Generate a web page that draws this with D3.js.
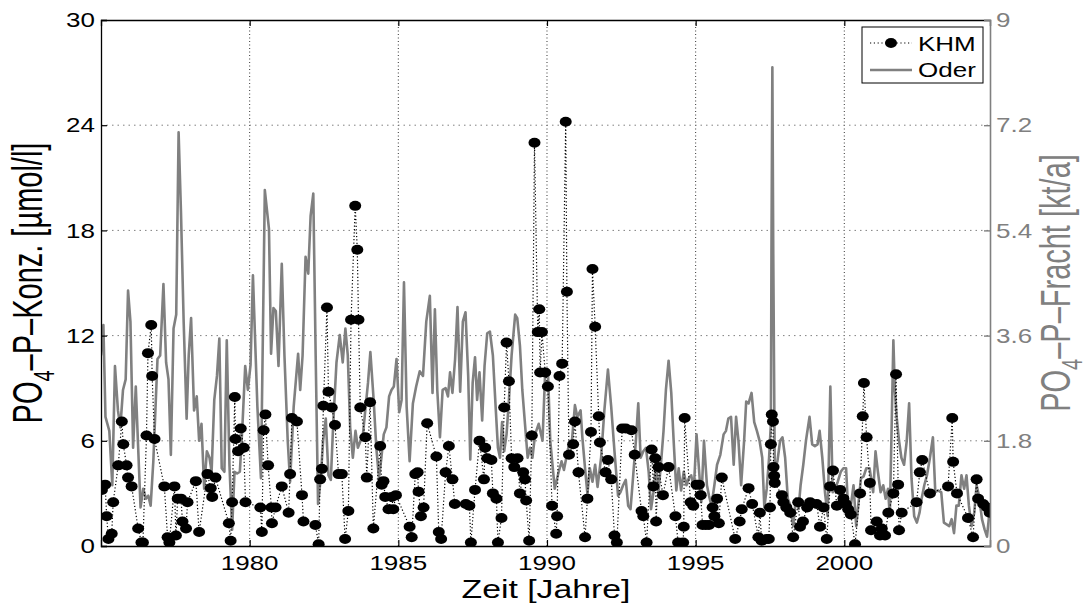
<!DOCTYPE html>
<html>
<head>
<meta charset="utf-8">
<script src="https://cdn.jsdelivr.net/npm/d3@7"></script>
<style>
  body { margin: 0; background: #fff; }
  svg { display: block; font-family: "Liberation Sans", Arial, Helvetica, sans-serif; }
</style>
</head>
<body>
<svg id="chart" width="1088" height="604"></svg>
<script>
// KHM concentration [µmol/l] : [year, value]
var khmSamples = [
  [1975.03,3.2],[1975.14,3.5],[1975.19,1.7],[1975.25,0.4],[1975.36,0.7],[1975.41,2.5],[1975.58,4.6],[1975.70,7.1],
  [1975.75,5.8],[1975.86,4.6],[1975.91,3.9],[1976.03,3.4],[1976.25,1.0],[1976.36,0.2],[1976.41,0.2],[1976.53,6.3],
  [1976.58,11.0],[1976.69,12.6],[1976.72,9.7],[1976.80,6.1],[1977.13,3.4],[1977.24,0.5],[1977.30,0.2],[1977.47,3.4],
  [1977.52,0.6],[1977.58,2.7],[1977.69,2.7],[1977.74,1.4],[1977.86,1.0],[1977.91,2.5],[1978.19,3.7],[1978.30,0.8],
  [1978.58,4.1],[1978.69,3.3],[1978.74,2.8],[1978.85,3.9],[1979.30,1.3],[1979.36,0.3],[1979.41,2.5],[1979.50,8.5],
  [1979.52,6.1],[1979.61,5.4],[1979.70,6.7],[1979.80,5.6],[1979.86,2.5],[1980.36,2.2],[1980.41,0.8],[1980.47,6.6],
  [1980.53,7.5],[1980.62,4.6],[1980.73,2.2],[1980.75,1.3],[1980.87,2.2],[1981.08,3.4],[1981.31,1.9],[1981.36,4.1],
  [1981.42,7.3],[1981.59,7.1],[1981.76,2.9],[1981.81,1.4],[1982.21,1.2],[1982.32,0.1],[1982.37,3.8],[1982.43,4.4],
  [1982.48,8.0],[1982.60,13.6],[1982.65,8.8],[1982.76,7.9],[1982.87,6.9],[1982.99,4.1],[1983.10,4.1],[1983.21,0.4],
  [1983.32,2.0],[1983.41,12.9],[1983.55,19.4],[1983.62,16.9],[1983.66,12.9],[1983.72,7.9],[1983.89,6.2],[1983.94,3.9],
  [1984.05,8.2],[1984.16,1.0],[1984.39,5.7],[1984.44,3.5],[1984.50,3.7],[1984.56,2.8],[1984.67,2.1],[1984.78,2.8],
  [1984.83,2.1],[1984.92,2.9],
  [1985.38,1.1],[1985.45,0.5],[1985.57,4.1],[1985.65,4.2],[1985.68,3.1],[1985.76,1.7],[1985.85,2.2],[1985.97,7.0],
  [1986.28,5.1],[1986.36,0.8],[1986.44,0.4],[1986.59,4.2],[1986.70,5.7],[1986.82,3.8],[1986.90,2.4],[1987.27,2.4],
  [1987.39,2.3],[1987.44,0.2],[1987.58,3.2],[1987.73,6.0],[1987.88,3.8],[1987.92,5.6],[1987.99,5.0],[1988.13,4.9],
  [1988.18,3.0],[1988.30,2.7],[1988.35,0.2],[1988.47,1.6],[1988.56,7.9],[1988.64,11.6],[1988.72,9.4],[1988.81,5.0],
  [1988.90,4.5],[1989.01,5.0],[1989.09,3.0],[1989.20,4.2],[1989.26,3.8],[1989.30,2.6],[1989.40,0.3],[1989.49,6.3],
  [1989.58,23.0],[1989.69,12.2],[1989.74,13.5],[1989.77,9.9],[1989.83,12.2],[1989.94,9.9],[1990.03,9.1],
  [1990.17,2.3],[1990.31,0.7],[1990.34,1.7],[1990.42,9.7],[1990.51,10.4],[1990.63,24.2],[1990.67,14.5],[1990.74,5.2],
  [1990.88,5.8],[1990.94,7.1],[1991.06,4.2],[1991.28,0.5],[1991.36,2.7],[1991.48,6.5],[1991.53,15.8],[1991.62,12.5],
  [1991.74,7.4],[1991.78,5.9],[1991.97,4.2],[1992.05,4.9],[1992.16,3.8],[1992.27,0.6],[1992.35,0.2],[1992.53,6.7],
  [1992.65,6.7],[1992.84,6.6],[1992.95,5.2],[1993.18,2.0],[1993.24,1.7],[1993.35,0.2],[1993.52,5.5],[1993.58,3.4],
  [1993.64,5.0],[1993.67,1.4],[1993.75,4.5],[1993.90,2.9],[1994.09,4.5],[1994.32,1.7],[1994.41,0.2],[1994.58,0.2],
  [1994.60,1.1],[1994.63,7.3],[1994.83,2.5],[1994.92,2.3],[1995.03,3.5],
  [1995.11,3.5],[1995.17,2.9],[1995.23,1.2],[1995.34,1.2],[1995.45,1.2],[1995.57,2.2],[1995.63,1.7],[1995.72,2.7],
  [1995.78,1.3],[1995.88,3.9],[1996.33,0.4],[1996.48,1.4],[1996.55,2.1],[1996.78,3.3],[1996.90,2.4],[1997.11,0.5],
  [1997.16,1.9],[1997.22,0.3],[1997.39,0.4],[1997.46,0.4],[1997.50,2.2],[1997.53,5.8],[1997.56,7.5],[1997.60,7.1],
  [1997.62,4.5],[1997.64,4.0],[1997.66,3.6],[1997.90,2.9],[1997.95,2.5],[1998.05,2.2],[1998.18,1.9],[1998.28,0.5],
  [1998.45,2.5],[1998.51,1.1],[1998.61,1.4],[1998.75,2.2],[1998.85,2.5],[1999.07,2.4],[1999.18,1.1],[1999.30,2.2],
  [1999.41,0.4],[1999.52,3.4],[1999.62,4.3],[1999.75,2.3],[1999.86,3.2],[1999.97,2.7],[2000.05,2.4],[2000.13,2.1],
  [2000.22,1.8],[2000.36,0.1],[2000.53,3.0],[2000.62,7.4],[2000.66,9.3],[2000.75,6.2],[2000.86,3.6],[2000.90,0.9],
  [2001.09,1.4],[2001.20,0.6],[2001.26,1.0],[2001.37,0.6],[2001.48,1.9],[2001.65,3.0],[2001.74,9.8],[2001.81,3.5],
  [2001.84,0.9],[2001.93,1.9],[2002.43,2.5],[2002.54,4.2],[2002.62,4.9],[2002.88,3.0],[2003.49,3.4],[2003.63,7.3],
  [2003.66,4.8],[2003.79,3.0],[2004.16,1.6],[2004.33,0.5],[2004.45,3.8],[2004.50,2.7],[2004.67,2.4],[2004.80,2.2],
  [2004.89,1.9]
];

// Oder load [kt/a] : [year, value]
var oderSamples = [
  [1975.00,3.26],[1975.08,3.78],[1975.15,2.21],[1975.28,1.97],[1975.38,1.04],[1975.47,3.08],[1975.57,2.32],[1975.65,2.03],
  [1975.74,2.67],[1975.83,2.85],[1975.91,4.37],[1975.99,3.84],[1976.08,1.68],[1976.17,2.73],[1976.25,1.68],[1976.33,0.66],
  [1976.42,0.98],[1976.51,0.81],[1976.59,0.86],[1976.67,0.69],[1976.76,1.45],[1976.90,3.20],[1976.99,3.26],[1977.10,4.48],
  [1977.19,3.14],[1977.27,2.85],[1977.35,1.56],[1977.44,3.72],[1977.53,3.96],[1977.61,7.08],[1977.69,5.71],[1977.78,3.84],
  [1977.88,2.18],[1977.95,3.26],[1978.03,3.90],[1978.13,2.32],[1978.22,2.56],[1978.30,1.80],[1978.38,2.09],[1978.47,0.98],
  [1978.56,1.62],[1978.65,1.51],[1978.72,1.27],[1978.81,2.50],[1978.90,2.91],[1978.98,3.55],[1979.06,1.33],[1979.15,1.27],
  [1979.23,3.52],[1979.32,1.39],[1979.41,0.28],[1979.49,1.27],[1979.58,1.24],[1979.67,1.27],[1979.76,2.09],[1979.85,3.08],
  [1979.94,2.67],[1980.03,3.10],[1980.11,4.63],[1980.26,2.38],[1980.38,1.16],[1980.51,6.09],[1980.65,5.42],[1980.72,3.29],
  [1980.80,4.07],[1980.88,4.02],[1980.97,3.08],[1981.08,4.83],[1981.17,3.26],[1981.28,1.80],[1981.36,1.10],[1981.48,2.38],
  [1981.63,3.29],[1981.70,2.67],[1981.78,3.26],[1981.88,4.95],[1981.97,4.66],[1982.05,5.65],[1982.14,6.03],[1982.22,3.26],
  [1982.30,0.72],[1982.39,1.16],[1982.47,1.80],[1982.56,2.18],[1982.65,1.21],[1982.73,1.13],[1982.81,2.09],[1982.92,3.14],
  [1983.03,3.61],[1983.13,3.14],[1983.22,3.72],[1983.30,3.26],[1983.38,2.03],[1983.47,1.51],[1983.56,1.97],[1983.64,1.68],
  [1983.73,1.80],[1983.81,1.91],[1983.90,2.38],[1983.98,2.79],[1984.06,3.32],[1984.17,2.50],[1984.26,1.68],[1984.35,1.16],
  [1984.43,1.51],[1984.51,1.91],[1984.60,2.03],[1984.69,2.56],[1984.77,2.67],[1984.85,2.73],[1984.94,3.20],[1985.03,2.29],
  [1985.11,2.50],[1985.19,4.51],[1985.28,2.38],[1985.38,1.45],[1985.49,2.44],[1985.60,2.73],[1985.72,2.99],[1985.83,2.91],
  [1985.94,3.84],[1986.06,4.28],[1986.15,2.62],[1986.23,4.05],[1986.31,2.67],[1986.40,1.86],[1986.49,2.67],[1986.59,2.70],
  [1986.67,2.56],[1986.74,2.97],[1986.82,2.62],[1986.91,3.20],[1986.99,4.09],[1987.08,2.64],[1987.17,3.84],[1987.26,4.00],
  [1987.35,2.91],[1987.42,1.48],[1987.50,2.79],[1987.58,3.23],[1987.65,2.50],[1987.73,2.97],[1987.82,2.15],[1987.90,3.08],
  [1987.99,3.64],[1988.08,3.67],[1988.18,3.26],[1988.26,2.50],[1988.35,1.68],[1988.42,1.51],[1988.49,2.12],[1988.56,1.62],
  [1988.64,1.91],[1988.72,2.50],[1988.81,3.26],[1988.93,3.96],[1989.00,3.90],[1989.09,3.43],[1989.17,2.67],[1989.26,2.09],
  [1989.35,1.51],[1989.43,1.68],[1989.51,1.51],[1989.60,1.91],[1989.72,2.09],[1989.85,1.80],[1989.94,2.99],[1990.03,3.02],
  [1990.11,1.80],[1990.26,0.98],[1990.38,1.24],[1990.49,1.45],[1990.57,1.30],[1990.65,1.51],[1990.74,1.74],[1990.83,1.74],
  [1990.94,2.41],[1991.02,2.21],[1991.13,2.32],[1991.19,1.86],[1991.28,1.33],[1991.36,0.89],[1991.44,1.33],[1991.53,1.10],
  [1991.62,1.39],[1991.70,1.01],[1991.82,1.51],[1991.93,2.32],[1992.05,3.02],[1992.16,2.38],[1992.27,1.62],[1992.39,0.86],
  [1992.47,0.92],[1992.56,1.04],[1992.65,1.13],[1992.73,0.69],[1992.81,0.63],[1992.90,1.21],[1992.99,1.80],[1993.07,2.44],
  [1993.15,1.51],[1993.24,1.62],[1993.33,1.68],[1993.42,1.27],[1993.50,0.63],[1993.58,0.92],[1993.67,1.36],[1993.75,0.92],
  [1993.84,1.45],[1993.92,1.97],[1994.00,2.67],[1994.09,3.17],[1994.18,2.62],[1994.26,1.80],[1994.35,0.95],[1994.43,1.33],
  [1994.51,0.95],[1994.60,1.27],[1994.69,1.04],[1994.77,1.16],[1994.85,1.21],[1994.94,0.98],[1995.03,1.91],[1995.11,1.33],
  [1995.19,0.75],[1995.28,1.80],[1995.38,1.04],[1995.45,0.86],[1995.53,0.69],[1995.63,1.04],[1995.72,1.39],[1995.83,1.56],
  [1995.94,1.91],[1996.02,1.97],[1996.10,2.18],[1996.19,2.21],[1996.28,1.39],[1996.36,2.21],[1996.44,1.80],[1996.53,1.04],
  [1996.63,1.80],[1996.70,2.47],[1996.78,2.44],[1996.88,2.62],[1996.97,2.12],[1997.06,1.97],[1997.15,1.80],[1997.24,1.51],
  [1997.31,0.66],[1997.39,0.98],[1997.47,1.51],[1997.53,2.09],[1997.55,5.01],[1997.58,8.19],[1997.61,5.01],[1997.66,1.33],
  [1997.75,1.45],[1997.84,1.80],[1997.92,1.86],[1998.01,1.51],[1998.10,0.81],[1998.19,0.69],[1998.28,0.34],[1998.37,0.81],
  [1998.46,0.63],[1998.53,1.04],[1998.62,1.39],[1998.71,1.80],[1998.83,2.21],[1998.92,1.74],[1999.01,1.71],[1999.10,1.74],
  [1999.17,1.97],[1999.26,1.51],[1999.35,0.92],[1999.44,0.51],[1999.53,2.73],[1999.61,0.92],[1999.69,0.98],[1999.78,1.10],
  [1999.88,1.27],[1999.97,1.33],[2000.06,1.33],[2000.14,0.51],[2000.22,0.69],[2000.31,1.04],[2000.40,0.34],[2000.48,0.75],
  [2000.56,1.16],[2000.65,1.19],[2000.74,1.33],[2000.85,1.33],[2000.97,0.92],[2001.05,1.62],[2001.13,1.27],[2001.22,0.92],
  [2001.31,1.04],[2001.39,0.81],[2001.47,0.98],[2001.53,0.51],[2001.58,1.74],[2001.65,3.52],[2001.70,2.67],[2001.76,2.21],
  [2001.84,1.80],[2001.92,1.51],[2002.01,1.39],[2002.10,1.80],[2002.18,2.44],[2002.26,1.16],[2002.35,0.51],[2002.44,0.40],
  [2002.53,0.57],[2002.60,0.81],[2002.69,1.04],[2002.78,1.21],[2002.88,1.51],[2002.98,1.86],[2003.06,0.92],[2003.15,0.95],
  [2003.26,0.92],[2003.35,0.40],[2003.44,0.37],[2003.53,0.34],[2003.61,0.46],[2003.69,0.22],[2003.77,0.69],[2003.85,0.69],
  [2003.94,1.21],[2004.03,0.98],[2004.11,1.21],[2004.19,0.69],[2004.28,0.34],[2004.37,0.57],[2004.45,1.04],[2004.53,0.86],
  [2004.63,0.46],[2004.72,0.28],[2004.80,0.16],[2004.88,0.57]
];

var yearTicks = [1980, 1985, 1990, 1995, 2000];
var concTicks = [0, 6, 12, 18, 24, 30];
var loadTicks = [0, 1.8, 3.6, 5.4, 7.2, 9];
var loadTickLabels = ["0", "1.8", "3.6", "5.4", "7.2", "9"];
var legendNames = ["KHM", "Oder"];

var svg = d3.select("#chart");
var plot = {left: 101, right: 990, top: 20, bottom: 546};
var stretch = 1.3;        // the picture is wider than the text it holds
var titleStretch = 1.45;  // rotated titles are stretched across their height
var grey = "#808080";

var x = d3.scaleLinear().domain([1975, 2004.9]).range([plot.left, plot.right]);
var yConc = d3.scaleLinear().domain([0, 30]).range([plot.bottom, plot.top]);
var yLoad = d3.scaleLinear().domain([0, 9]).range([plot.bottom, plot.top]);

svg.append("defs").append("clipPath").attr("id", "clip")
  .append("rect")
  .attr("x", plot.left).attr("y", plot.top)
  .attr("width", plot.right - plot.left).attr("height", plot.bottom - plot.top);

// grid
svg.append("g").selectAll("line")
  .data(yearTicks).enter().append("line")
  .attr("x1", d => x(d)).attr("x2", d => x(d))
  .attr("y1", plot.top).attr("y2", plot.bottom)
  .attr("stroke", "#000").attr("stroke-width", 0.8).attr("stroke-dasharray", "1,2.5");

svg.append("g").selectAll("line")
  .data(concTicks.slice(1, -1)).enter().append("line")
  .attr("x1", plot.left).attr("x2", plot.right)
  .attr("y1", d => yConc(d)).attr("y2", d => yConc(d))
  .attr("stroke", grey).attr("stroke-width", 1).attr("stroke-dasharray", "1.5,4");

var layer = svg.append("g").attr("clip-path", "url(#clip)");

// Oder line (right axis)
layer.append("path")
  .datum(oderSamples)
  .attr("fill", "none")
  .attr("stroke", grey)
  .attr("stroke-width", 2.6)
  .attr("stroke-linejoin", "round")
  .attr("d", d3.line().x(d => x(d[0])).y(d => yLoad(d[1])));

// KHM dotted line + dots (left axis)
layer.append("path")
  .datum(khmSamples)
  .attr("fill", "none")
  .attr("stroke", "#000")
  .attr("stroke-width", 1.2)
  .attr("stroke-dasharray", "1.2,2.2")
  .attr("d", d3.line().x(d => x(d[0])).y(d => yConc(d[1])));

layer.selectAll("ellipse")
  .data(khmSamples).enter().append("ellipse")
  .attr("cx", d => x(d[0])).attr("cy", d => yConc(d[1]))
  .attr("rx", 6).attr("ry", 5)
  .attr("fill", "#000");

// axes
var xBottom = svg.append("g").attr("transform", `translate(0, ${plot.bottom})`)
  .call(d3.axisBottom(x).tickValues(yearTicks).tickSize(-6).tickFormat(""));
var xTop = svg.append("g").attr("transform", `translate(0, ${plot.top})`)
  .call(d3.axisTop(x).tickValues(yearTicks).tickSize(-6).tickFormat(""));
var yLeft = svg.append("g").attr("transform", `translate(${plot.left}, 0)`)
  .call(d3.axisLeft(yConc).tickValues(concTicks).tickSize(-6).tickFormat(""));
var yRight = svg.append("g").attr("transform", `translate(${plot.right}, 0)`)
  .call(d3.axisRight(yLoad).tickValues(loadTicks).tickSize(-6).tickFormat(""));

[xBottom, xTop, yLeft].forEach(function(g){
  g.select(".domain").attr("stroke", "#000").attr("stroke-width", 1.3);
  g.selectAll(".tick line").attr("stroke", "#000").attr("stroke-width", 1.2);
});
yRight.select(".domain").attr("stroke", grey).attr("stroke-width", 1.6);
yRight.selectAll(".tick line").attr("stroke", grey).attr("stroke-width", 1.4);

// texts, stretched sideways like the original
function label(px, py, txt, opts) {
  var sx = opts.rotate ? titleStretch : stretch;
  var t = svg.append("text")
    .attr("transform", `translate(${px},${py}) scale(${sx},1)` + (opts.rotate ? " rotate(-90)" : ""))
    .attr("text-anchor", opts.anchor || "middle")
    .attr("font-size", opts.size)
    .attr("fill", opts.color || "#000");
  if (opts.dy) t.attr("dy", opts.dy);
  if (txt !== null) t.text(txt);
  return t;
}

concTicks.forEach(function(v){
  label(95, yConc(v), v, {anchor: "end", size: 20, dy: "0.36em"});
});
loadTicks.forEach(function(v, i){
  label(996, yLoad(v), loadTickLabels[i], {anchor: "start", size: 20, dy: "0.36em", color: grey});
});
yearTicks.forEach(function(v){
  label(x(v), 570, v, {size: 20});
});

// axis titles
label(546, 598, "Zeit [Jahre]", {size: 26});

function poTitle(px, rest, color) {
  var t = label(px, (plot.top + plot.bottom) / 2, null, {size: 29, rotate: true, color: color});
  t.append("tspan").text("PO");
  t.append("tspan").attr("dy", 8).attr("font-size", 20).text("4");
  t.append("tspan").attr("dy", -8).text(rest);
}
poTitle(42, "\u2013P\u2013Konz. [\u00b5mol/l]", "#000");
poTitle(1070, "\u2013P\u2013Fracht [kt/a]", grey);

// legend
var legend = svg.append("g");
legend.append("rect")
  .attr("x", 862).attr("y", 27).attr("width", 121).attr("height", 56)
  .attr("fill", "#fff").attr("stroke", "#000").attr("stroke-width", 1);
legend.append("line")
  .attr("x1", 870).attr("x2", 912).attr("y1", 43).attr("y2", 43)
  .attr("stroke", "#000").attr("stroke-width", 1.2).attr("stroke-dasharray", "1.2,2.6");
legend.append("ellipse")
  .attr("cx", 891).attr("cy", 43).attr("rx", 6).attr("ry", 5).attr("fill", "#000");
legend.append("line")
  .attr("x1", 870).attr("x2", 912).attr("y1", 70).attr("y2", 70)
  .attr("stroke", grey).attr("stroke-width", 2.6);
label(918, 50.5, legendNames[0], {anchor: "start", size: 20});
label(918, 77, legendNames[1], {anchor: "start", size: 20});
</script>
</body>
</html>
